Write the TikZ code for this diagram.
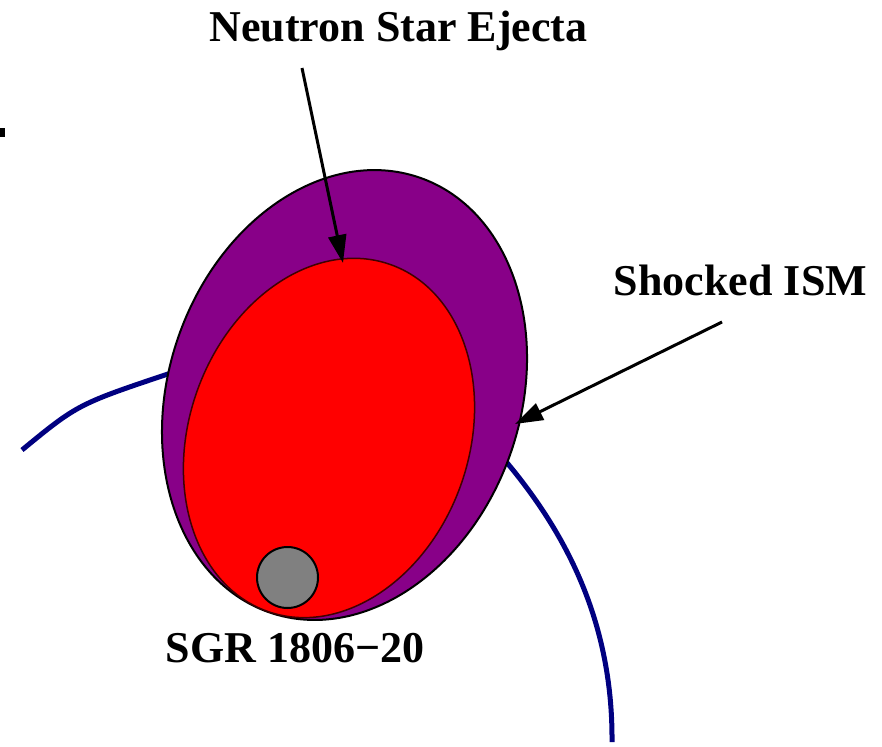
\documentclass[tikz,border=0pt]{standalone}
\usepackage{fontspec}
\setmainfont{Liberation Serif}
\usetikzlibrary{arrows.meta}
\definecolor{shellpurple}{HTML}{880088}
\definecolor{ejectared}{HTML}{FF0000}
\definecolor{starGray}{HTML}{808080}
\definecolor{orbitnavy}{HTML}{000080}
\begin{document}
\begin{tikzpicture}[x=1pt,y=-1pt,
  labeltext/.style={font=\bfseries\fontsize{44}{50}\selectfont, inner sep=0pt, anchor=base},
  pointer/.style={line width=3pt, -{Triangle[length=28pt,width=18pt]}},
  orbit/.style={orbitnavy, line width=5pt},
  rim/.style={draw=black, line width=2pt}]
\useasboundingbox (0,0) rectangle (882,746);
% orbit curves (behind the ejecta)
\coordinate (lA) at (22,450);
\coordinate (lB) at (174,372);
\draw[orbit] (lA) .. controls (78,404) .. (lB);
\coordinate (rA) at (503,458);
\coordinate (rB) at (612,742);
\draw[orbit] (rA) .. controls (560,525) and (613,615) .. (rB);
% shocked ISM shell
\coordinate (shellC) at (344.5,395);
\draw[rim, fill=shellpurple, rotate around={-19:(shellC)}] (shellC) ellipse [x radius=176pt, y radius=230pt];
% neutron star ejecta
\coordinate (ejC) at (329,438);
\draw[draw=black!75!red, line width=1.5pt, fill=ejectared, rotate around={-19.5:(ejC)}] (ejC) ellipse [x radius=140pt, y radius=184pt];
% neutron star
\node[circle, rim, fill=starGray, minimum size=61pt, inner sep=0pt] (star) at (287.5,577.5) {};
% small mark at left edge
\fill[black] (0,128) rectangle (5,137);
% labels
\node[labeltext] (nse) at (398.5,42) {Neutron Star Ejecta};
\node[labeltext] (ism) at (740.5,295) {Shocked ISM};
\node[labeltext] (sgr) at (295,662) {SGR 1806−20};
% pointers
\coordinate (nsStart) at (302,68);
\coordinate (nsTip) at (343,263);
\draw[pointer] (nsStart) -- (nsTip);
\coordinate (ismStart) at (722,322);
\coordinate (ismTip) at (515,424);
\draw[pointer] (ismStart) -- (ismTip);
\end{tikzpicture}
\end{document}
